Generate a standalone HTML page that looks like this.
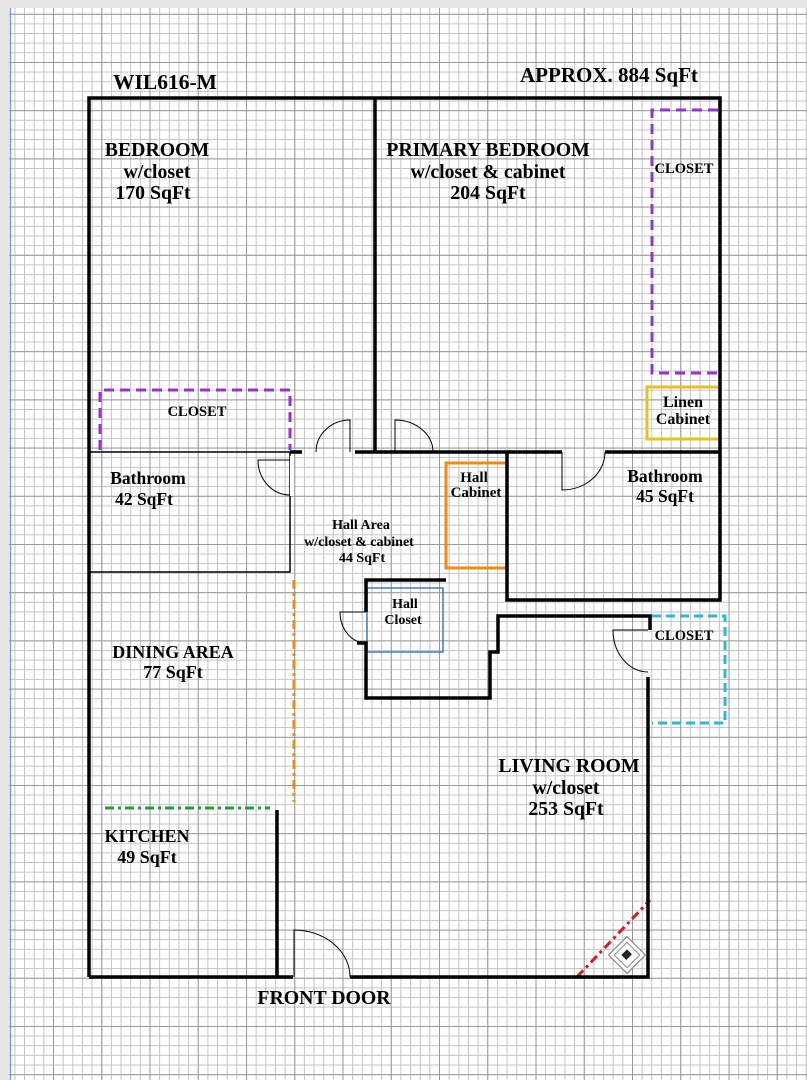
<!DOCTYPE html>
<html><head><meta charset="utf-8"><style>
html,body{margin:0;padding:0;background:#fff}
svg{display:block}
text{font-family:"Liberation Serif",serif;font-weight:bold;fill:#000}
</style></head><body>
<svg width="807" height="1080" viewBox="0 0 807 1080" xmlns="http://www.w3.org/2000/svg">
<defs>
<pattern id="mn" x="4.75" y="4.1" width="9.65" height="9.64" patternUnits="userSpaceOnUse">
<path d="M0.5 0V9.64M0 0.5H9.65" stroke="#c4c4c4" stroke-width="1" fill="none"/>
</pattern>
<pattern id="mj" x="53" y="62" width="48.25" height="48.2" patternUnits="userSpaceOnUse">
<path d="M0.5 0V48.2M0 0.5H48.25" stroke="#999" stroke-width="1" fill="none"/>
</pattern>
</defs>
<rect width="807" height="1080" fill="#fff"/>
<rect width="807" height="1080" fill="url(#mn)"/>
<rect width="807" height="1080" fill="url(#mj)"/>
<rect x="0" y="0" width="807" height="8" fill="#e4e4e4"/>
<rect x="0" y="0" width="9" height="1080" fill="#e4e4e4"/>
<line x1="10.5" y1="8" x2="10.5" y2="1080" stroke="#7a9cc8" stroke-width="1.5"/>

<g fill="none" stroke-linecap="butt">
<path d="M100 450V390H290V450" stroke="#9b30d0" stroke-width="3" stroke-dasharray="10,6"/>
<path d="M718 110H652V373H718" stroke="#9b30d0" stroke-width="3" stroke-dasharray="10,6"/>
<path d="M718 387H647V439H718" stroke="#e8c020" stroke-width="3"/>
<path d="M507 463H446V568H507" stroke="#f08a10" stroke-width="3"/>
<rect x="367" y="588" width="76" height="64" stroke="#3a78c8" stroke-width="1.5"/>
<path d="M652 616H725V723H652" stroke="#30b8cc" stroke-width="3" stroke-dasharray="9,5"/>
<line x1="294" y1="580" x2="294" y2="802" stroke="#f08a10" stroke-width="3" stroke-dasharray="9,4,3,4"/>
<line x1="105" y1="808" x2="270" y2="808" stroke="#20a030" stroke-width="3" stroke-dasharray="9,4,3,4"/>
<line x1="577" y1="977" x2="650" y2="900" stroke="#d02020" stroke-width="3" stroke-dasharray="9,4,3,4"/>

<path d="M89 452H290V572H89" stroke="#000" stroke-width="1.5"/>

<g stroke="#000" stroke-width="3.5">
<path d="M89 977V98H720V600H507V452"/>
<line x1="375" y1="98" x2="375" y2="452"/>
<line x1="290" y1="452" x2="302" y2="452"/>
<line x1="355" y1="452" x2="433" y2="452"/>
<line x1="433" y1="452" x2="562" y2="452"/>
<line x1="605" y1="452" x2="720" y2="452"/>
<path d="M446 580H366V612"/>
<path d="M357 643H366V698H490V652H498V616H650V630"/>
<path d="M648 677V977H350"/>
<path d="M293 977H89"/>
<line x1="277" y1="810" x2="277" y2="977"/>
</g>
<rect x="290" y="456" width="4" height="40" fill="#fff" stroke="none"/>

<g stroke="#000" stroke-width="1">
<path d="M350 452V420A34 32 0 0 0 316 452"/>
<path d="M395 452V420A38 32 0 0 1 433 452"/>
<path d="M290 460H258A32 35 0 0 0 290 495"/>
<path d="M562 452V490A43 38 0 0 0 605 452"/>
<path d="M366 612H340A26 31 0 0 0 366 643"/>
<path d="M648 630H613A35 42 0 0 0 648 672"/>
<path d="M294 977V930A56 47 0 0 1 350 977"/>
</g>
</g>

<g transform="translate(627,955) rotate(-45)">
<rect x="-13" y="-13" width="26" height="26" fill="#fff" stroke="#888" stroke-width="1.2"/>
<rect x="-9" y="-9" width="18" height="18" fill="none" stroke="#888" stroke-width="1"/>
<rect x="-4" y="-4" width="8" height="7" fill="#222"/>
</g>

<text x="113" y="89" font-size="21.5">WIL616-M</text>
<text x="520" y="82" font-size="21">APPROX. 884 SqFt</text>
<g font-size="19.8" text-anchor="middle">
<text x="157" y="156">BEDROOM</text>
<text x="157" y="178">w/closet</text>
<text x="153" y="199">170 SqFt</text>
<text x="488" y="156">PRIMARY BEDROOM</text>
<text x="488" y="178">w/closet &amp; cabinet</text>
<text x="488" y="199">204 SqFt</text>
<text x="173" y="658" font-size="18">DINING AREA</text>
<text x="173" y="678" font-size="18">77 SqFt</text>
<text x="147" y="842" font-size="18">KITCHEN</text>
<text x="147" y="863" font-size="18">49 SqFt</text>
<text x="569" y="772">LIVING ROOM</text>
<text x="566" y="794">w/closet</text>
<text x="566" y="815">253 SqFt</text>
<text x="324" y="1004">FRONT DOOR</text>
</g>
<g font-size="17.5" text-anchor="middle">
<text x="148" y="484">Bathroom</text>
<text x="144" y="505">42 SqFt</text>
<text x="665" y="482">Bathroom</text>
<text x="665" y="502">45 SqFt</text>
</g>
<g font-size="14" text-anchor="middle">
<text x="197" y="416" font-size="14.5">CLOSET</text>
<text x="684" y="173" font-size="14.5">CLOSET</text>
<text x="684" y="640" font-size="14.5">CLOSET</text>
<text x="361" y="529">Hall Area</text>
<text x="359" y="546">w/closet &amp; cabinet</text>
<text x="362" y="562">44 SqFt</text>
<text x="474" y="482" font-size="15">Hall</text>
<text x="476" y="497" font-size="15">Cabinet</text>
<text x="405" y="608">Hall</text>
<text x="403" y="624">Closet</text>
<text x="683" y="407" font-size="16">Linen</text>
<text x="683" y="424" font-size="16">Cabinet</text>
</g>
</svg>
</body></html>
